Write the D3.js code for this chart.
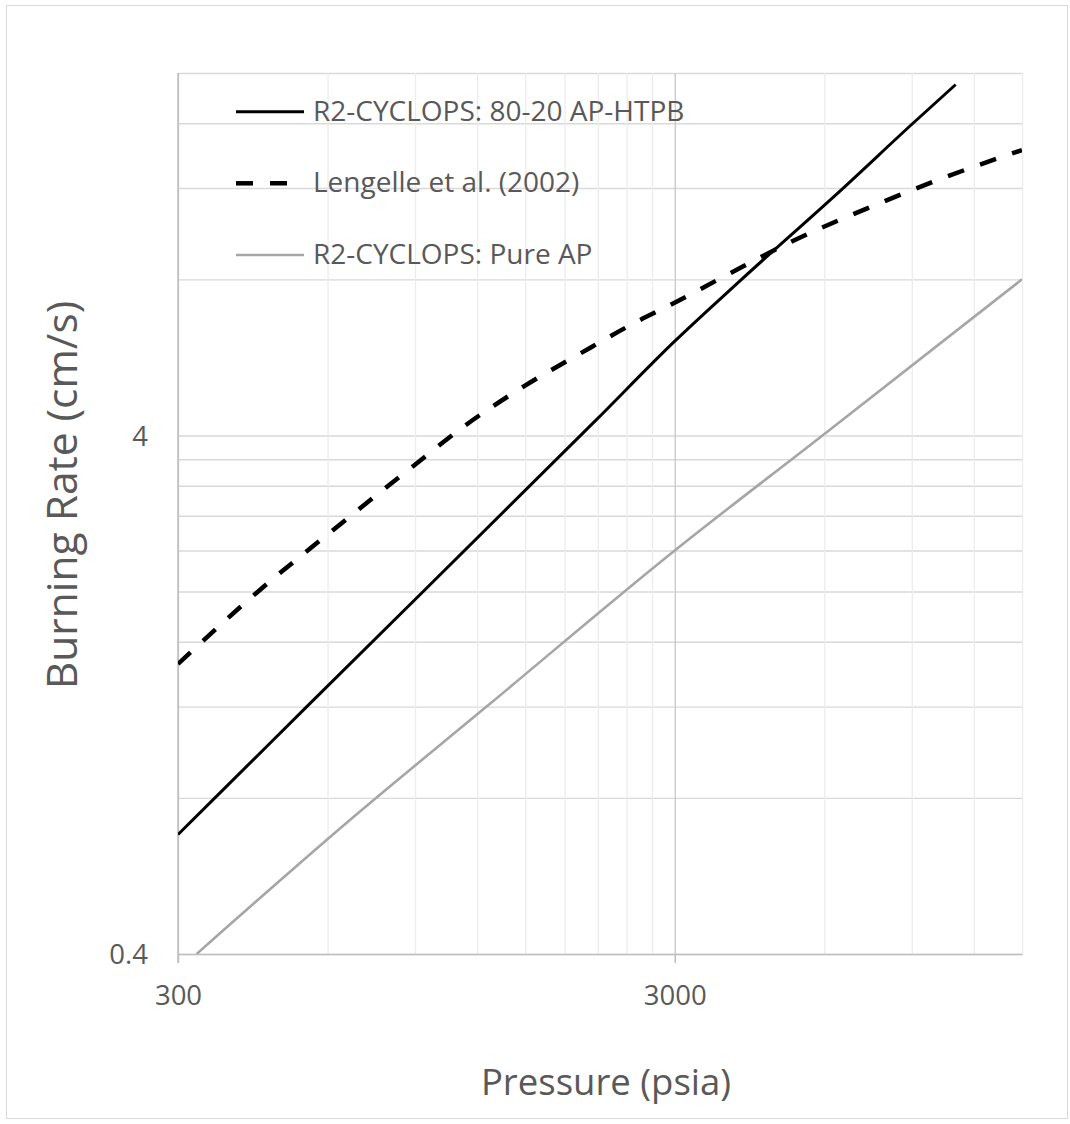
<!DOCTYPE html>
<html>
<head>
<meta charset="utf-8">
<script src="https://cdn.jsdelivr.net/npm/d3@7"></script>
<style>
  body { margin: 0; background: #ffffff; }
  svg { display: block; font-family: "Open Sans", sans-serif; }
</style>
</head>
<body>
<svg id="chart" width="1070" height="1124"></svg>
<script>
// ---------- data ----------
const seriesNames = ["R2-CYCLOPS: 80-20 AP-HTPB", "Lengelle et al. (2002)", "R2-CYCLOPS: Pure AP"];

const pressureHTPB = [300, 356, 545, 2087, 3000, 4090, 6550, 9050, 11030];
const rateHTPB     = [0.68, 0.80, 1.20, 4.29, 6.08, 8.00, 12.0, 16.0, 19.0];

const pressureLengelle = [300, 432, 616, 892, 1143, 1474, 1932, 2532, 2931, 3841, 5109, 7815, 10482, 14160, 15000];
const rateLengelle     = [1.45, 1.99, 2.63, 3.49, 4.20, 4.94, 5.75, 6.65, 7.13, 8.18, 9.42, 11.25, 12.58, 13.94, 14.2];

const pressureAP = [327, 671, 1254, 3000, 5950, 15000];
const rateAP     = [0.40, 0.73, 1.20, 2.40, 4.00, 8.00];

const xMajorTicks = [300, 3000];
const xMinorTicks = [600, 900, 1200, 1500, 1800, 2100, 2400, 2700, 6000, 9000, 12000, 15000];
const yMajorTicks = [0.4, 4];
const yMinorTicks = [0.8, 1.2, 1.6, 2.0, 2.4, 2.8, 3.2, 3.6, 8, 12, 16, 20];
const xDomain = [300, 15000];
const yDomain = [0.4, 20];

const xTitle = "Pressure (psia)";
const yTitle = "Burning Rate (cm/s)";

// ---------- layout ----------
const svg = d3.select("#chart");
const plot = { left: 178, right: 1022, top: 73, bottom: 954 };
const textColor = "#595959";

const x = d3.scaleLog().domain(xDomain).range([plot.left, plot.right]);
const y = d3.scaleLog().domain(yDomain).range([plot.bottom, plot.top]);

// outer chart border
svg.append("rect")
  .attr("x", 6.5).attr("y", 5.5).attr("width", 1061).attr("height", 1113)
  .attr("fill", "#ffffff").attr("stroke", "#d9d9d9").attr("stroke-width", 1);

// horizontal gridlines (minor + major)
svg.append("g")
  .attr("transform", `translate(${plot.left},0)`)
  .call(d3.axisLeft(y).tickValues(yMinorTicks.concat(yMajorTicks))
        .tickSize(-(plot.right - plot.left)).tickFormat(""))
  .call(g => g.select(".domain").remove())
  .call(g => g.selectAll(".tick line").attr("stroke", "#d9d9d9").attr("stroke-width", 1.4));

// vertical minor gridlines
svg.append("g")
  .attr("transform", `translate(0,${plot.bottom})`)
  .call(d3.axisBottom(x).tickValues(xMinorTicks)
        .tickSize(-(plot.bottom - plot.top)).tickFormat(""))
  .call(g => g.select(".domain").remove())
  .call(g => g.selectAll(".tick line").attr("stroke", "#ececec").attr("stroke-width", 1.3));

// vertical major gridlines
svg.append("g")
  .attr("transform", `translate(0,${plot.bottom})`)
  .call(d3.axisBottom(x).tickValues(xMajorTicks)
        .tickSize(-(plot.bottom - plot.top)).tickFormat(""))
  .call(g => g.select(".domain").remove())
  .call(g => g.selectAll(".tick line").attr("stroke", "#c8c8c8").attr("stroke-width", 1.3));

// x axis
const xAxis = svg.append("g")
  .attr("transform", `translate(0,${plot.bottom})`)
  .call(d3.axisBottom(x).tickValues(xMajorTicks).tickSizeInner(9).tickSizeOuter(0)
        .tickFormat(d => String(d)));
xAxis.select(".domain").attr("stroke", "#bfbfbf").attr("stroke-width", 1.5);
xAxis.selectAll(".tick line").attr("stroke", "#bfbfbf").attr("stroke-width", 1.5);
xAxis.selectAll(".tick text")
  .attr("y", 51).attr("dy", 0)
  .attr("fill", textColor).style("font-size", "27.5px").style("font-family", "'Open Sans', sans-serif");

// y axis
const yAxis = svg.append("g")
  .attr("transform", `translate(${plot.left},0)`)
  .call(d3.axisLeft(y).tickValues(yMajorTicks).tickSize(0).tickPadding(30)
        .tickFormat(d => String(d)));
yAxis.select(".domain").attr("stroke", "#bfbfbf").attr("stroke-width", 1.5)
  .attr("d", `M0,${plot.top}V${plot.bottom + 9}`);
yAxis.selectAll(".tick text")
  .attr("dy", "0.36em")
  .attr("fill", textColor).style("font-size", "27.5px").style("font-family", "'Open Sans', sans-serif");

// clip
svg.append("clipPath").attr("id", "clip")
  .append("rect").attr("x", plot.left).attr("y", plot.top)
  .attr("width", plot.right - plot.left).attr("height", plot.bottom - plot.top);

const line = d3.line()
  .x(d => x(d[0])).y(d => y(d[1]))
  .curve(d3.curveMonotoneX);

const styles = [
  { stroke: "#000000", width: 3, dash: null },
  { stroke: "#000000", width: 4.5, dash: "17,17" },
  { stroke: "#a6a6a6", width: 2.6, dash: null }
];

const seriesData = [
  d3.zip(pressureHTPB, rateHTPB),
  d3.zip(pressureLengelle, rateLengelle),
  d3.zip(pressureAP, rateAP)
];

const gSeries = svg.append("g").attr("clip-path", "url(#clip)");
[2, 0, 1].forEach(i => {
  gSeries.append("path")
    .datum(seriesData[i])
    .attr("fill", "none")
    .attr("stroke", styles[i].stroke)
    .attr("stroke-width", styles[i].width)
    .attr("stroke-dasharray", styles[i].dash)
    .attr("d", line);
});

// legend
const legendY = [111.7, 183.3, 255];
const legend = svg.append("g");
seriesNames.forEach((name, i) => {
  legend.append("line")
    .attr("x1", 236).attr("x2", 304)
    .attr("y1", legendY[i]).attr("y2", legendY[i])
    .attr("stroke", styles[i].stroke)
    .attr("stroke-width", styles[i].width)
    .attr("stroke-dasharray", styles[i].dash);
  legend.append("text")
    .attr("x", 313).attr("y", legendY[i] + 9)
    .attr("fill", textColor)
    .style("font-size", "28px")
    .text(name);
});

// axis titles
svg.append("text")
  .attr("x", 606).attr("y", 1095)
  .attr("text-anchor", "middle")
  .attr("fill", textColor)
  .style("font-size", "36.5px")
  .text(xTitle);

svg.append("text")
  .attr("transform", "translate(77,495) rotate(-90)")
  .attr("text-anchor", "middle")
  .attr("fill", textColor)
  .style("font-size", "42.5px")
  .text(yTitle);
</script>
</body>
</html>
